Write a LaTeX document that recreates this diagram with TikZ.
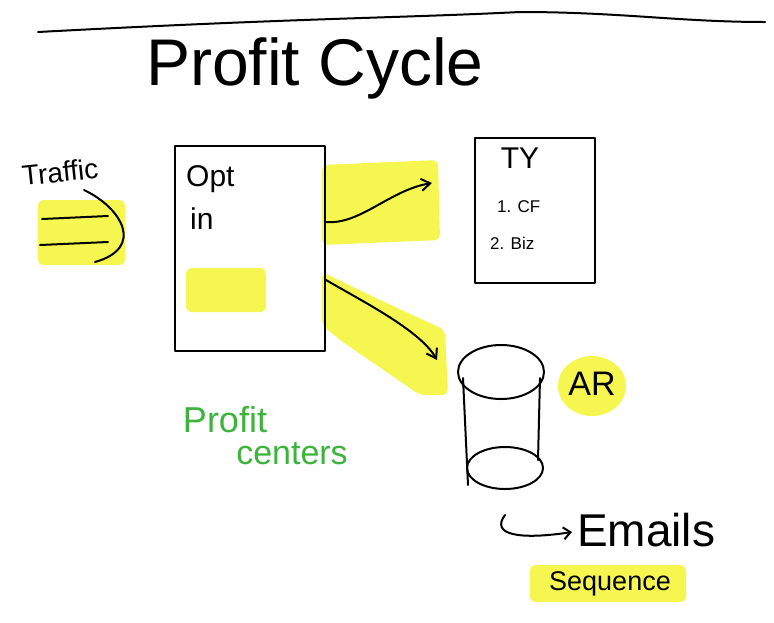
\documentclass[tikz,border=0pt]{standalone}
\usepackage{fontspec}
\setmainfont{Liberation Sans}
\usetikzlibrary{arrows.meta}
\definecolor{hl}{RGB}{246,246,80}
\definecolor{pgreen}{RGB}{60,180,60}
\tikzset{
  ink/.style={line width=2pt, draw=black, line cap=round, line join=round},
  hlbox/.style={fill=hl, draw=none, rounded corners=6pt},
  arr/.style={ink, -{Straight Barb[length=9pt,width=12pt]}},
  label/.style={font=\fontsize{30}{32}\selectfont, inner sep=0pt},
}
\begin{document}
\begin{tikzpicture}[x=1pt,y=-1pt]
\useasboundingbox (0,0) rectangle (774,622);
\fill[white] (0,0) rectangle (774,622);
% highlights
\fill[hlbox] (38,200) rectangle (125,265);
\fill[hlbox] (186,268) rectangle (266,312);
\fill[hlbox] (322,165) -- (438,160) -- (440,240) -- (322,245) -- cycle;
\fill[hlbox] (322,272) -- (380,300) -- (445,330) -- (448,395) -- (420,395) -- (340,340) -- (322,325) -- cycle;
\fill[hl] (592,386) ellipse (34 and 30);
\fill[hlbox] (530,565) rectangle (686,602);
% top rule
\draw[ink] (38,32) .. controls (300,18) and (400,18) .. (520,12) .. controls (620,12) and (680,22) .. (765,22);
% title
\node[font=\fontsize{66}{68}\selectfont, inner sep=0pt] (title) at (315,68) {Profit Cycle};
% traffic
\node[label, rotate=6, font=\fontsize{28}{30}\selectfont] (traffic) at (60,172) {Traffic};
\coordinate (tA) at (42,219);
\coordinate (tB) at (108,216);
\coordinate (tC) at (40,245);
\coordinate (tD) at (108,242);
\draw[ink] (tA) -- (tB);
\draw[ink] (tC) -- (tD);
\draw[ink] (84,190) .. controls (122,208) and (145,248) .. (95,262);
% opt-in box
\node[ink, draw, rectangle, minimum width=150pt, minimum height=205pt, inner sep=0pt] (opt) at (250,248) {};
\node[label, anchor=north west] (opttxt) at (186,165) {Opt};
\node[label, anchor=north west] (intxt) at (190,208) {in};
% TY box
\node[ink, draw, rectangle, minimum width=120pt, minimum height=145pt] (ty) at (535,210) {};
\node[font=\fontsize{30}{32}\selectfont, inner sep=0pt] (tytxt) at (520,158) {TY};
\node[font=\fontsize{17}{19}\selectfont, inner sep=0pt, anchor=west] (cf) at (497,207) {1. CF};
\node[font=\fontsize{17}{19}\selectfont, inner sep=0pt, anchor=west] (biz) at (490,243) {2. Biz};
% cylinder (AR)
\coordinate (ar) at (500,415);
\draw[ink] (501,372) ellipse (43 and 27);
\draw[ink] (505,468) ellipse (38 and 21);
\draw[ink] (463,378) -- (468,485);
\draw[ink] (540,378) -- (538,460);
\node[font=\fontsize{34}{36}\selectfont, inner sep=0pt] (artxt) at (592,384) {AR};
% arrows
\draw[arr] ([yshift=26pt]opt.east) .. controls (360,225) and (390,190) .. (432,183);
\draw[arr] ([yshift=-32pt]opt.east) .. controls (360,300) and (420,330) .. (437,360);
% profit centers
\node[font=\fontsize{36}{38}\selectfont, text=pgreen, inner sep=0pt] (pc1) at (225,420) {Profit};
\node[font=\fontsize{34}{36}\selectfont, text=pgreen, inner sep=0pt] (pc2) at (292,454) {centers};
% emails
\coordinate (hookS) at (505,515);
\coordinate (hookE) at (572,532);
\draw[ink, -{Straight Barb[length=7pt,width=12pt]}] (hookS) .. controls (490,535) and (520,540) .. (hookE);
\node[font=\fontsize{46}{48}\selectfont, inner sep=0pt, anchor=west] (emails) at (577,530) {Emails};
\node[font=\fontsize{27}{29}\selectfont, inner sep=0pt] (seq) at (610,584) {Sequence};
\end{tikzpicture}
\end{document}
